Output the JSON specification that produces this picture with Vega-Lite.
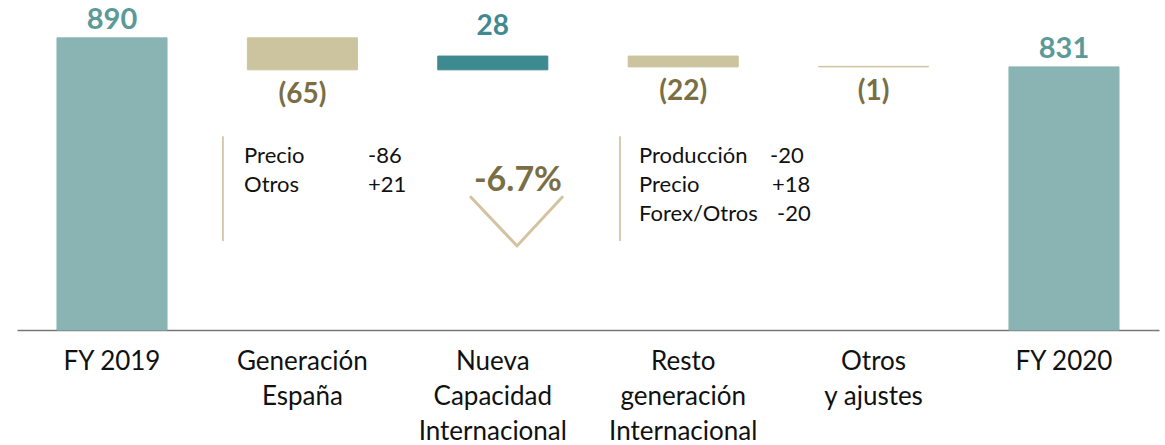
{
  "$schema": "https://vega.github.io/schema/vega-lite/v6.json",
  "width": 1142,
  "height": 330,
  "autosize": {"type": "none"},
  "padding": {"left": 17, "top": 0, "right": 6, "bottom": 115},
  "background": "white",
  "config": {"view": {"stroke": null}, "font": "Lato"},
  "datasets": {
    "main": [
      {"cat": "FY 2019", "start": 0, "end": 890, "label": "890", "kind": "total"},
      {"cat": "Generación|España", "start": 890, "end": 825, "label": "(65)", "kind": "neg"},
      {"cat": "Nueva|Capacidad|Internacional", "start": 825, "end": 853, "label": "28", "kind": "pos"},
      {"cat": "Resto|generación|Internacional", "start": 853, "end": 831, "label": "(22)", "kind": "neg"},
      {"cat": "Otros|y ajustes", "start": 832, "end": 831, "label": "(1)", "kind": "neg"},
      {"cat": "FY 2020", "start": 0, "end": 831, "label": "831", "kind": "total"}
    ],
    "table": [
      {"pos": 1.193, "val": 650, "t": "Precio"},
      {"pos": 1.193, "val": 591, "t": "Otros"},
      {"pos": 1.844, "val": 650, "t": "-86"},
      {"pos": 1.844, "val": 591, "t": "+21"},
      {"pos": 3.268, "val": 650, "t": "Producción"},
      {"pos": 3.268, "val": 591, "t": "Precio"},
      {"pos": 3.268, "val": 532, "t": "Forex/Otros"},
      {"pos": 3.956, "val": 650, "t": "-20"},
      {"pos": 3.967, "val": 591, "t": "+18"},
      {"pos": 3.993, "val": 532, "t": "-20"}
    ],
    "big": [{"pos": 2.632, "val": 599, "t": "-6.7%"}],
    "rules": [
      {"pos": 1.082, "top": 690, "bottom": 477},
      {"pos": 3.168, "top": 690, "bottom": 477}
    ],
    "chevron": [
      {"pos": 2.38, "val": 568, "o": 1},
      {"pos": 2.627, "val": 467, "o": 2},
      {"pos": 2.869, "val": 568, "o": 3}
    ]
  },
  "resolve": {"scale": {"x": "independent"}, "axis": {"x": "independent"}},
  "layer": [
    {
      "data": {"name": "main"},
      "encoding": {
        "x": {
          "field": "cat", "type": "nominal", "sort": null,
          "scale": {"paddingInner": 0.422, "paddingOuter": 0.21},
          "axis": {
            "title": null,
            "labelExpr": "split(datum.label, '|')",
            "labelAngle": 0,
            "labelFontSize": 26,
            "labelFont": "Lato",
            "labelColor": "#111111",
            "labelLineHeight": 35,
            "labelBaseline": "top",
            "labelPadding": 18,
            "ticks": false,
            "domainColor": "#777777",
            "domainWidth": 1.5
          }
        }
      },
      "layer": [
        {
          "mark": {"type": "bar"},
          "encoding": {
            "y": {"field": "start", "type": "quantitative", "scale": {"domain": [296, 967], "zero": false, "nice": false, "clamp": true}, "axis": null},
            "y2": {"field": "end"},
            "color": {"field": "kind", "type": "nominal", "scale": {"domain": ["total", "neg", "pos"], "range": ["#8ab4b4", "#cbc49f", "#3d8a90"]}, "legend": null},
            "stroke": {"field": "kind", "type": "nominal", "scale": {"domain": ["total", "neg", "pos"], "range": ["#8ab4b4", "#cbc49f", "#3d8a90"]}, "legend": null}
          }
        },
        {
          "transform": [{"filter": "datum.kind == 'total'"}],
          "mark": {"type": "text", "baseline": "bottom", "dy": -3, "fontSize": 29, "fontWeight": "bold", "color": "#5b9a98", "font": "Lato"},
          "encoding": {"y": {"field": "end", "type": "quantitative"}, "text": {"field": "label"}}
        },
        {
          "transform": [{"filter": "datum.kind == 'pos'"}],
          "mark": {"type": "text", "baseline": "bottom", "dy": -15, "fontSize": 28, "fontWeight": "bold", "color": "#3f8a90", "font": "Lato"},
          "encoding": {"y": {"field": "end", "type": "quantitative"}, "text": {"field": "label"}}
        },
        {
          "transform": [{"filter": "datum.kind == 'neg'"}],
          "mark": {"type": "text", "baseline": "middle", "dy": 25, "fontSize": 28, "fontWeight": "bold", "color": "#7a6e44", "font": "Lato"},
          "encoding": {"y": {"field": "end", "type": "quantitative"}, "text": {"field": "label"}}
        }
      ]
    },
    {
      "data": {"name": "rules"},
      "mark": {"type": "rule", "color": "#c9b896", "strokeWidth": 1.5},
      "encoding": {
        "x": {"field": "pos", "type": "quantitative", "scale": {"domain": [0, 6], "nice": false, "zero": false}, "axis": null},
        "y": {"field": "top", "type": "quantitative"},
        "y2": {"field": "bottom"}
      }
    },
    {
      "data": {"name": "chevron"},
      "mark": {"type": "line", "color": "#d3c3a1", "strokeWidth": 3},
      "encoding": {
        "x": {"field": "pos", "type": "quantitative", "scale": {"domain": [0, 6], "nice": false, "zero": false}, "axis": null},
        "y": {"field": "val", "type": "quantitative"},
        "order": {"field": "o"}
      }
    },
    {
      "data": {"name": "table"},
      "mark": {"type": "text", "align": "left", "baseline": "middle", "fontSize": 22, "color": "#111111", "font": "Lato"},
      "encoding": {
        "x": {"field": "pos", "type": "quantitative", "scale": {"domain": [0, 6], "nice": false, "zero": false}, "axis": null},
        "y": {"field": "val", "type": "quantitative"},
        "text": {"field": "t"}
      }
    },
    {
      "data": {"name": "big"},
      "mark": {"type": "text", "align": "center", "baseline": "middle", "fontSize": 34, "fontWeight": "bold", "color": "#7a6e44", "font": "Lato"},
      "encoding": {
        "x": {"field": "pos", "type": "quantitative", "scale": {"domain": [0, 6], "nice": false, "zero": false}, "axis": null},
        "y": {"field": "val", "type": "quantitative"},
        "text": {"field": "t"}
      }
    }
  ]
}
